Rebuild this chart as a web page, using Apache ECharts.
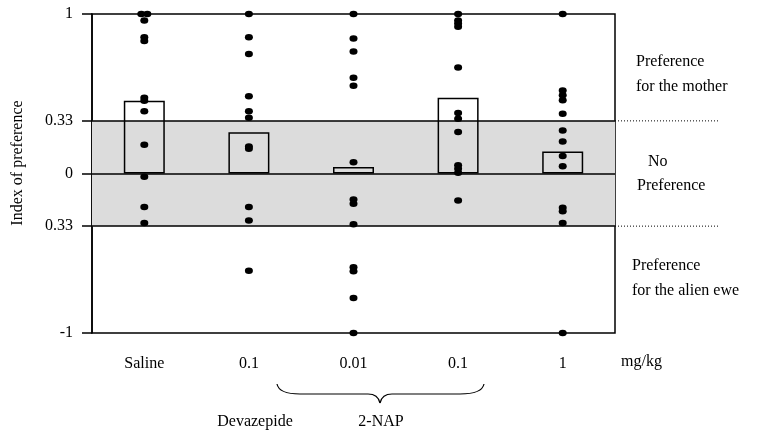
<!DOCTYPE html>
<html><head><meta charset="utf-8">
<script src="https://cdn.jsdelivr.net/npm/echarts@6/dist/echarts.min.js"></script>
<style>html,body{margin:0;padding:0;background:#fff}#c{width:757px;height:433px}</style>
</head><body><div id="c"></div>
<script>
var categories = ['Saline', '0.1', '0.01', '0.1', '1'];
var barValues = [0.456, 0.259, 0.04, 0.475, 0.138];
var dotsSaline = [1.0, 1.0, 0.96, 0.855, 0.83, 0.475, 0.456, 0.39, 0.18, -0.02, -0.21, -0.31];
var dotsDevazepide = [1.0, 0.855, 0.75, 0.485, 0.39, 0.35, 0.17, 0.155, -0.21, -0.295, -0.61];
var dotsNAP001 = [1.0, 0.846, 0.765, 0.6, 0.55, 0.07, -0.163, -0.19, -0.318, -0.587, -0.613, -0.78, -1.0];
var dotsNAP01 = [1.0, 0.96, 0.94, 0.92, 0.665, 0.38, 0.343, 0.26, 0.052, 0.03, 0.005, -0.17];
var dotsNAP1 = [1.0, 0.52, 0.49, 0.46, 0.375, 0.27, 0.2, 0.11, 0.046, -0.215, -0.236, -0.31, -1.0];
var yTickValues = [-1, -0.33, 0, 0.33, 1];
var yTickLabels = ['-1', '0.33', '0', '0.33', '1'];
var bandLow = -0.33, bandHigh = 0.33;

var groups = [dotsSaline, dotsDevazepide, dotsNAP001, dotsNAP01, dotsNAP1];
var dotData = [];
groups.forEach(function (g, i) {
  g.forEach(function (v, k) {
    var item = { value: [i, v] };
    if (i === 0 && k < 2) item.symbolOffset = [k === 0 ? -3 : 3, 0];
    dotData.push(item);
  });
});

var FONT = '"Liberation Serif", "DejaVu Serif", serif';
var chart = echarts.init(document.getElementById('c'), null, { renderer: 'canvas' });
var option = {
  animation: false,
  backgroundColor: '#fff',
  textStyle: { fontFamily: FONT },
  grid: { left: 92, right: 142, top: 14, bottom: 100, show: true, borderColor: '#000', borderWidth: 1.5, backgroundColor: 'transparent' },
  xAxis: {
    type: 'category', data: categories, boundaryGap: true,
    axisLine: { show: false }, axisTick: { show: false }, splitLine: { show: false },
    axisLabel: { color: '#000', fontFamily: FONT, fontSize: 16, margin: 23 }
  },
  yAxis: {
    type: 'value', min: -1, max: 1,
    axisLine: { show: true, lineStyle: { color: '#000', width: 1.5 } },
    axisTick: { show: true, inside: false, length: 10, customValues: yTickValues, lineStyle: { color: '#000', width: 1.5 } },
    axisLabel: {
      color: '#000', fontFamily: FONT, fontSize: 16, margin: 19, customValues: yTickValues,
      formatter: function (v) { var i = yTickValues.indexOf(v); return i >= 0 ? yTickLabels[i] : ''; }
    },
    splitLine: { show: false }
  },
  series: [
    {
      type: 'bar', data: barValues, barWidth: 41, z: 3,
      itemStyle: { color: 'rgba(0,0,0,0)', borderColor: '#000', borderWidth: 1.5 },
      markArea: {
        silent: true, z: 1,
        itemStyle: { color: '#dcdcdc' },
        data: [[{ yAxis: bandLow }, { yAxis: bandHigh }]]
      },
      markLine: {
        silent: true, symbol: 'none', z: 2,
        label: { show: false },
        lineStyle: { color: '#000', width: 1.5, type: 'solid' },
        data: [{ yAxis: bandLow }, { yAxis: 0 }, { yAxis: bandHigh }]
      }
    },
    {
      type: 'scatter', data: dotData, symbol: 'circle', symbolSize: [8, 6.5], z: 5,
      itemStyle: { color: '#000', opacity: 1 }
    }
  ]
};
chart.setOption(option);

var yHi = chart.convertToPixel({ yAxisIndex: 0 }, bandHigh);
var yLo = chart.convertToPixel({ yAxisIndex: 0 }, bandLow);
var xR = 757 - 142;
var txt = function (x, y, s, align) {
  return { type: 'text', x: x, y: y, style: { text: s, fill: '#000', font: '16px ' + FONT, textAlign: align || 'left', textVerticalAlign: 'middle' } };
};
var braceStyle = { stroke: '#000', lineWidth: 1.2, fill: 'none' };
var curve = function (x1, y1, cx, cy, x2, y2) {
  return { type: 'bezierCurve', shape: { x1: x1, y1: y1, cpx1: cx, cpy1: cy, x2: x2, y2: y2 }, style: braceStyle };
};
var seg = function (x1, y1, x2, y2) {
  return { type: 'line', shape: { x1: x1, y1: y1, x2: x2, y2: y2 }, style: braceStyle };
};
chart.setOption({
  graphic: [
    { type: 'line', shape: { x1: xR, y1: yHi, x2: 720, y2: yHi }, style: { stroke: '#000', lineWidth: 1, lineDash: [1, 2] } },
    { type: 'line', shape: { x1: xR, y1: yLo, x2: 720, y2: yLo }, style: { stroke: '#000', lineWidth: 1, lineDash: [1, 2] } },
    txt(636, 62, 'Preference'), txt(636, 87, 'for the mother'),
    txt(648, 162, 'No'), txt(637, 186, 'Preference'),
    txt(632, 266, 'Preference'), txt(632, 291, 'for the alien ewe'),
    txt(621, 362, 'mg/kg'),
    txt(255, 422, 'Devazepide', 'center'),
    txt(381, 422, '2-NAP', 'center'),
    { type: 'text', x: 18, y: 163, rotation: Math.PI / 2,
      style: { text: 'Index of preference', fill: '#000', font: '16px ' + FONT, textAlign: 'center', textVerticalAlign: 'middle' } },
    curve(277, 384, 279, 394, 300, 394),
    seg(300, 394, 368, 394),
    curve(368, 394, 378, 394, 380, 403),
    curve(380, 403, 382, 394, 392, 394),
    seg(392, 394, 460, 394),
    curve(460, 394, 482, 394, 484, 384)
  ]
});
</script></body></html>
